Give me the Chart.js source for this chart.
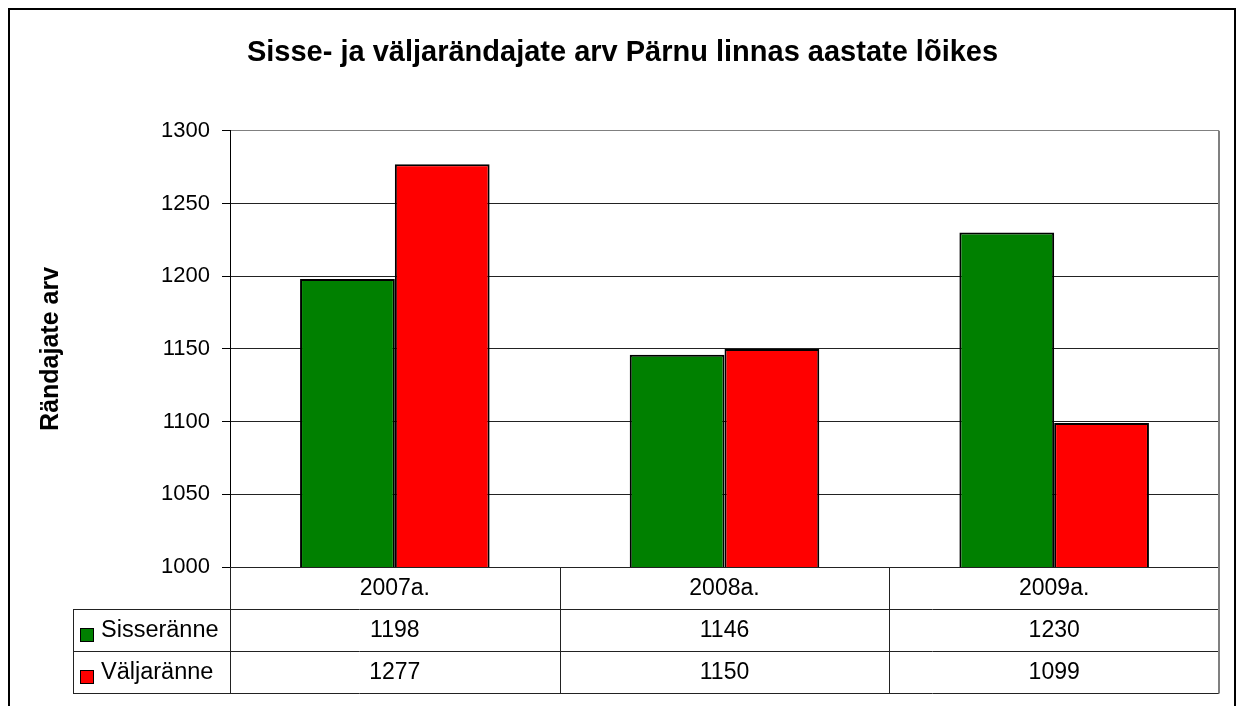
<!DOCTYPE html>
<html>
<head>
<meta charset="utf-8">
<script src="https://cdn.jsdelivr.net/npm/chart.js@4/dist/chart.umd.min.js"></script>
<style>
    body { margin: 0; background: #fff; }
    canvas { display: block; }
</style>
</head>
<body>
<canvas id="migrationChart" width="1236" height="706"></canvas>
<script>
// data
const years = ['2007a.', '2008a.', '2009a.'];
const seriesNames = ['Sisseränne', 'Väljaränne'];
const sisseranne = [1198, 1146, 1230];
const valjaranne = [1277, 1150, 1099];
const seriesColors = ['#008000', '#ff0000'];
const yTicks = [1000, 1050, 1100, 1150, 1200, 1250, 1300];

const FONT = '"Liberation Sans", Arial, sans-serif';
const ROW_H = 42;
const PAD_LEFT = 26;

// data table under the plot, drawn from the x scale
const dataTablePlugin = {
    id: 'dataTable',
    afterDraw(chart) {
        const ctx = chart.ctx;
        const area = chart.chartArea;
        const xScale = chart.scales.x;
        const series = [sisseranne, valjaranne];
        const bottom = area.bottom + ROW_H * 3;

        // column edges
        const edges = [area.left];
        for (let i = 0; i < years.length - 1; i++) {
            edges.push((xScale.getPixelForValue(i) + xScale.getPixelForValue(i + 1)) / 2);
        }
        edges.push(area.right);

        ctx.save();
        ctx.lineWidth = 1;
        ctx.strokeStyle = '#222';

        // horizontal rules
        for (let r = 1; r <= 3; r++) {
            const y = Math.round(area.bottom + ROW_H * r) + 0.5;
            ctx.beginPath();
            ctx.moveTo(73, y);
            ctx.lineTo(area.right, y);
            ctx.stroke();
        }
        // vertical rules
        ctx.beginPath();
        ctx.moveTo(73.5, area.bottom + ROW_H);
        ctx.lineTo(73.5, bottom);
        ctx.stroke();
        edges.slice(0, -1).forEach(x => {
            const px = Math.round(x) + 0.5;
            ctx.beginPath();
            ctx.moveTo(px, area.bottom);
            ctx.lineTo(px, bottom);
            ctx.stroke();
        });

        // plot border right side
        ctx.strokeStyle = '#808080';
        ctx.lineWidth = 2;
        ctx.beginPath();
        ctx.moveTo(area.right, area.top);
        ctx.lineTo(area.right, bottom + 0.5);
        ctx.stroke();

        // texts
        ctx.fillStyle = '#000';
        ctx.font = '23px ' + FONT;
        ctx.textBaseline = 'middle';
        ctx.textAlign = 'center';
        years.forEach((label, i) => {
            const cx = xScale.getPixelForValue(i);
            ctx.fillText(label, cx, area.bottom + ROW_H / 2 + 1);
            series.forEach((vals, s) => {
                ctx.fillText(String(vals[i]), cx, area.bottom + ROW_H * (s + 1) + ROW_H / 2 + 1);
            });
        });

        // legend keys + series names
        ctx.textAlign = 'left';
        ctx.font = '23.5px ' + FONT;
        seriesNames.forEach((name, s) => {
            const rowTop = area.bottom + ROW_H * (s + 1);
            ctx.fillStyle = seriesColors[s];
            ctx.fillRect(80, rowTop + 19, 14, 14);
            ctx.strokeStyle = '#000';
            ctx.lineWidth = 1;
            ctx.strokeRect(80.5, rowTop + 19.5, 13, 13);
            ctx.fillStyle = '#000';
            ctx.fillText(name, 101, rowTop + ROW_H / 2 + 1);
        });

        // outer chart frame
        ctx.strokeStyle = '#000';
        ctx.lineWidth = 2;
        ctx.strokeRect(9, 9, 1226, 740);
        ctx.restore();
    }
};

new Chart(document.getElementById('migrationChart'), {
    type: 'bar',
    data: {
        labels: years,
        datasets: [{
            label: seriesNames[0],
            data: sisseranne,
            backgroundColor: seriesColors[0],
            borderColor: '#000',
            borderWidth: 2
        }, {
            label: seriesNames[1],
            data: valjaranne,
            backgroundColor: seriesColors[1],
            borderColor: '#000',
            borderWidth: 2
        }]
    },
    options: {
        responsive: false,
        animation: false,
        categoryPercentage: 0.575,
        barPercentage: 1,
        layout: {
            padding: { left: PAD_LEFT, right: 17, top: 0, bottom: 139 }
        },
        scales: {
            x: {
                display: false
            },
            y: {
                min: yTicks[0],
                max: yTicks[yTicks.length - 1],
                afterBuildTicks: function(scale) {
                    scale.ticks = yTicks.map(v => ({ value: v }));
                },
                afterFit: function(scale) {
                    scale.width = 230 - PAD_LEFT;
                },
                ticks: {
                    color: '#000',
                    padding: 12,
                    font: { family: FONT, size: 22 },
                    callback: function(value) {
                        return String(value);
                    }
                },
                grid: {
                    color: function(ctx) {
                        return ctx.tick && ctx.tick.value === 1300 ? '#808080' : '#222';
                    },
                    tickColor: '#000',
                    tickLength: 8,
                    lineWidth: 1
                },
                border: { color: '#000', width: 1 },
                title: {
                    display: true,
                    text: 'Rändajate arv',
                    color: '#000',
                    font: { family: FONT, size: 25, weight: 'bold' },
                    padding: { top: 10, bottom: 0 }
                }
            }
        },
        plugins: {
            legend: { display: false },
            tooltip: { enabled: false },
            title: {
                display: true,
                text: 'Sisse- ja väljarändajate arv Pärnu linnas aastate lõikes',
                color: '#000',
                font: { family: FONT, size: 29, weight: 'bold' },
                padding: { top: 36, bottom: 60 }
            }
        }
    },
    plugins: [dataTablePlugin]
});
</script>
</body>
</html>
